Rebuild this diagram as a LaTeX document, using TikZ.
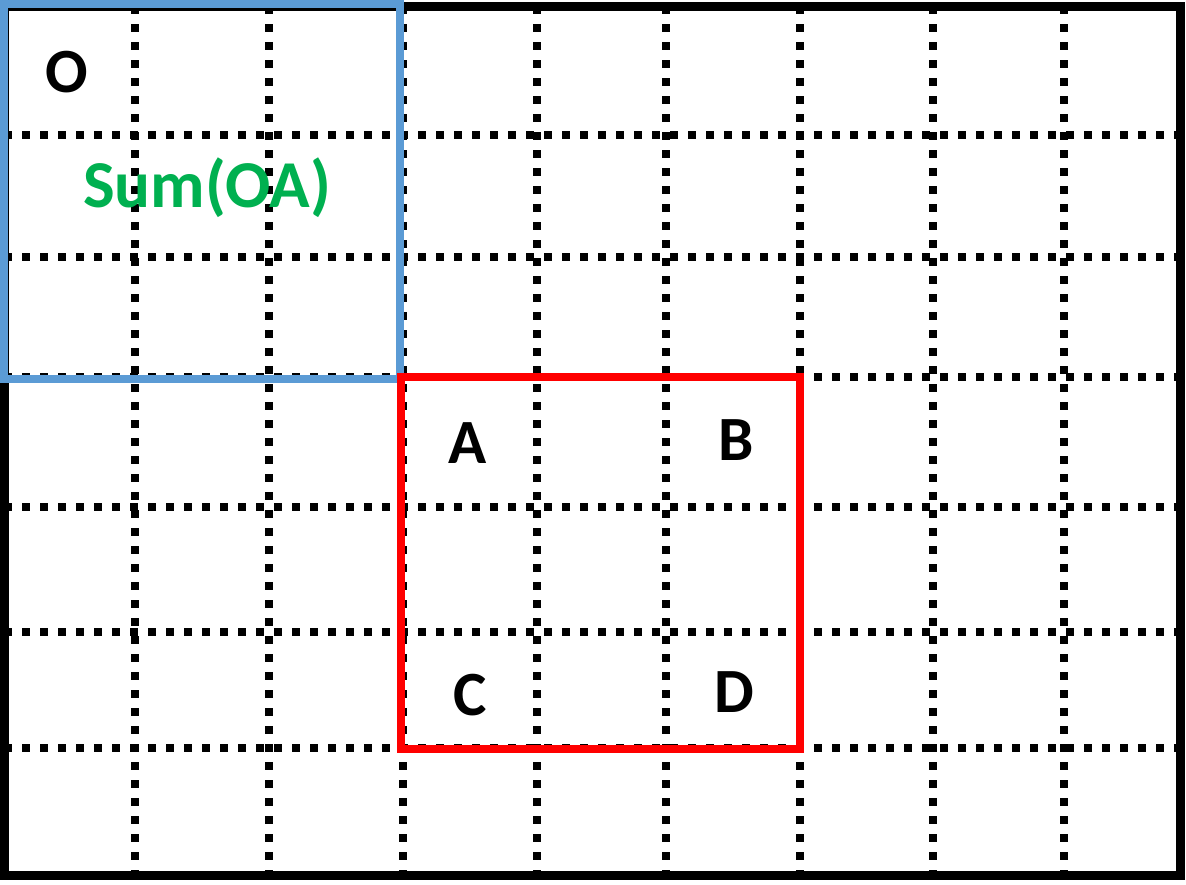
\documentclass[tikz,border=0pt]{standalone}
\usepackage{fontspec}
\setmainfont{Carlito}
\definecolor{boxblue}{HTML}{5B9BD5}
\definecolor{boxred}{HTML}{FF0000}
\definecolor{sumgreen}{HTML}{00B050}
\tikzset{
  gridline/.style={line width=7.5pt, dash pattern=on 7.5pt off 10.5pt, black},
  frameline/.style={line width=9pt, black},
  bluebox/.style={line width=8pt, draw=boxblue},
  redbox/.style={line width=8pt, draw=boxred},
  letter/.style={font=\fontsize{63}{63}\selectfont\bfseries, text=black, inner sep=0pt},
  greenlabel/.style={font=\fontsize{67}{67}\selectfont\bfseries, text=sumgreen, inner sep=0pt}
}
\begin{document}
\begin{tikzpicture}[x=1pt,y=-1pt]
\fill[white] (0,0) rectangle (1186,884);
\useasboundingbox (0,0) rectangle (1186,884);
% grid
\foreach \x in {135,269,403,537,666,800,933,1064}
  \draw[gridline] (\x,6) -- (\x,875);
\foreach \y in {135,257,377,507,632,748}
  \draw[gridline] (4,\y) -- (1180,\y);
% frame
\draw[frameline] (4,6) rectangle (1180,875);
% boxes
\draw[bluebox] (4,4) rectangle (400,379);
\draw[redbox] (401,377) rectangle (800,749);
% labels
\node[letter] (O) at (67,72) {O};
\node[greenlabel] (sum) at (207,188) {Sum(OA)};
\node[letter] (A) at (468,443) {A};
\node[letter] (B) at (736,440) {B};
\node[letter] (C) at (470,695) {C};
\node[letter] (D) at (734,692) {D};
\end{tikzpicture}
\end{document}
